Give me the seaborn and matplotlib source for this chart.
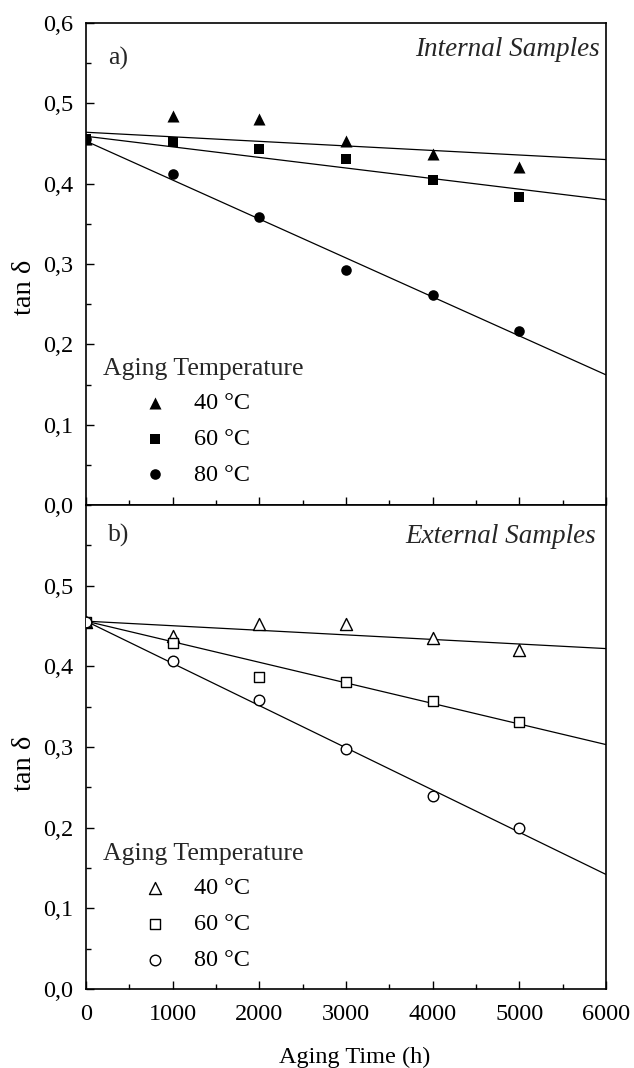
import numpy as np
import pandas as pd
import matplotlib
matplotlib.use("Agg")
import matplotlib.pyplot as plt
import seaborn as sns
from matplotlib.ticker import MultipleLocator, FuncFormatter

sns.set_theme(style="white")
plt.rcParams['font.family'] = ['Liberation Serif', 'DejaVu Serif']

# ---- data ----
time_h = [0, 1000, 2000, 3000, 4000, 5000]
temps = ["40 °C", "60 °C", "80 °C"]

int_40 = [0.455, 0.484, 0.481, 0.453, 0.437, 0.421]
int_60 = [0.455, 0.452, 0.443, 0.431, 0.404, 0.384]
int_80 = [0.455, 0.412, 0.359, 0.293, 0.261, 0.217]

ext_40 = [0.455, 0.437, 0.452, 0.453, 0.435, 0.420]
ext_60 = [0.455, 0.429, 0.387, 0.381, 0.357, 0.331]
ext_80 = [0.455, 0.406, 0.358, 0.297, 0.239, 0.200]

# fitted lines (value at t=0 and at t=6000 h)
int_fit_start = [0.464, 0.459, 0.453]
int_fit_end = [0.430, 0.380, 0.162]
ext_fit_start = [0.456, 0.456, 0.456]
ext_fit_end = [0.422, 0.303, 0.142]

fit_t = [0, 6000]
y_ticks = [0.0, 0.1, 0.2, 0.3, 0.4, 0.5, 0.6]
x_ticks = [0, 1000, 2000, 3000, 4000, 5000, 6000]

markers = ["^", "s", "o"]
sizes = [75, 62, 58]

W, H = 634, 1068
fig = plt.figure(figsize=(W / 100, H / 100), dpi=100)
left = 86 / W
width = (606 - 86) / W
ax_top = fig.add_axes([left, 1 - 505 / H, width, (505 - 23) / H])
ax_bot = fig.add_axes([left, 1 - 989 / H, width, (989 - 505) / H], sharex=ax_top)

tick_fs = 17.5
leg_fs = 17.5
title_fs = 18.5
ital_fs = 19.5
lab_fs = 20.5
comma = FuncFormatter(lambda v, p: f"{v:.1f}".replace(".", ","))


def panel(ax, series, starts, ends, filled, label, label_y, title, title_x, title_y,
          leg_title_y, leg_y, ylab_y):
    for i, (vals, m) in enumerate(zip(series, markers)):
        df = pd.DataFrame({"t": time_h, "v": vals})
        sns.scatterplot(data=df, x="t", y="v", ax=ax, marker=m, s=sizes[i],
                        color="black" if filled else "white",
                        edgecolor="black", linewidth=0 if filled else 1.0,
                        label=temps[i], zorder=3)
        ax.plot(fit_t, [starts[i], ends[i]], color="black", lw=0.9, zorder=2)
    ax.set_xlim(0, 6000)
    ax.set_ylim(0, 0.6)
    ax.set_xticks(x_ticks)
    ax.set_yticks(y_ticks)
    ax.xaxis.set_minor_locator(MultipleLocator(500))
    ax.yaxis.set_minor_locator(MultipleLocator(0.05))
    ax.yaxis.set_major_formatter(comma)
    ax.tick_params(which="both", direction="in", top=False, right=False,
                   left=True, bottom=True, labelsize=tick_fs, colors="black")
    ax.tick_params(which="major", length=6, width=1)
    ax.tick_params(which="minor", length=3.5, width=1)
    ax.tick_params(axis="y", which="major", pad=9)
    ax.tick_params(axis="x", which="major", pad=11)
    for sp in ax.spines.values():
        sp.set_color("black")
        sp.set_linewidth(1.2)
    ax.set_ylabel("tan δ", fontsize=lab_fs, color="black")
    ax.yaxis.set_label_coords(-0.094, ylab_y)
    ax.set_xlabel("")
    ax.text(0.042, label_y, label, transform=ax.transAxes,
            fontsize=title_fs, ha="left", va="center")
    ax.text(title_x, title_y, title, transform=ax.transAxes,
            fontsize=ital_fs, ha="right", va="center", style="italic")
    ax.text(0.033, leg_title_y, "Aging Temperature", transform=ax.transAxes,
            fontsize=title_fs, ha="left", va="center")
    leg = ax.legend(loc="center left", bbox_to_anchor=(0.109, leg_y), frameon=False,
                    fontsize=leg_fs, handletextpad=1.1, handlelength=1.0,
                    labelspacing=0.57, borderaxespad=0, borderpad=0)
    for t in leg.get_texts():
        t.set_color("black")


panel(ax_top, [int_40, int_60, int_80], int_fit_start, int_fit_end, True,
      "a)", 0.927, "Internal Samples", 0.988, 0.944, 0.282, 0.137, 0.452)
panel(ax_bot, [ext_40, ext_60, ext_80], ext_fit_start, ext_fit_end, False,
      "b)", 0.938, "External Samples", 0.981, 0.934, 0.279, 0.134, 0.467)

ax_top.tick_params(labelbottom=False)
ax_bot.set_yticks(y_ticks[:-1])
ax_bot.set_xlabel("Aging Time (h)", fontsize=tick_fs, color="black")
ax_bot.xaxis.set_label_coords(0.517, -0.12)

fig.savefig("out.png", dpi=100, facecolor="white")
